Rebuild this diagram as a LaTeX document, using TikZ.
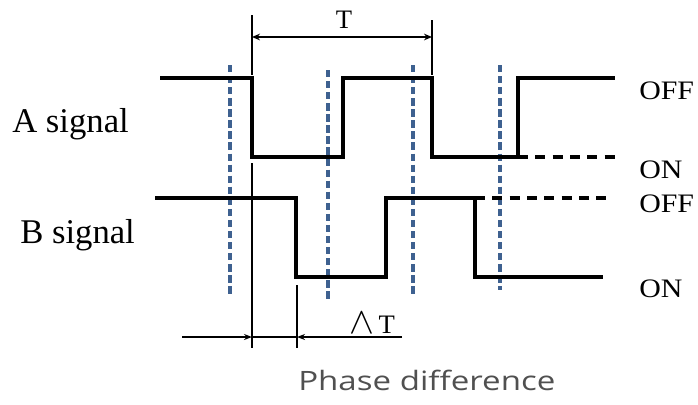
\documentclass[tikz,border=0pt]{standalone}
\usepackage{fontspec}
\setmainfont{Liberation Serif}
\newfontfamily\uifont{Open Sans}
\usepackage{graphicx}
\usepackage{tikz}
\usetikzlibrary{arrows.meta}
\definecolor{guideblue}{RGB}{62,97,144}
\definecolor{capgray}{RGB}{80,80,80}

\begin{document}
\begin{tikzpicture}[x=0.75pt, y=-0.75pt,
    wave/.style={line width=2.8pt},
    wavedash/.style={line width=2.8pt, dash pattern=on 7.5pt off 5.5pt},
    guide/.style={guideblue, line width=2.6pt, dash pattern=on 5.5pt off 2.8pt},
    tick/.style={line width=2pt},
    sig/.style={font=\fontsize{26}{30}\selectfont, anchor=base west, inner sep=0pt},
    lvl/.style={font=\fontsize{20}{24}\selectfont, anchor=base west, inner sep=0pt}]
  \useasboundingbox (0,0) rectangle (698,404);
  % Sampling guides (blue dashed)
  \foreach \gx/\gtop/\gbot in {230/65/294, 328/70/300, 413/65/294, 500/65/290} {
    \draw[guide] (\gx,\gtop) -- (\gx,\gbot);
  }
  % A signal
  \draw[wave] (160,78) -| (252,157) -| (343,78) -| (432,157) -| (518,78) -- (615,78);
  \draw[wavedash] (518,157) -- (617,157);
  % B signal
  \draw[wave] (155,198) -| (296,277) -| (386,198) -| (475,277) -- (603,277);
  \draw[wavedash] (475,198) -- (610,198);
  % Period T
  \coordinate (ptop) at (252,15);
  \coordinate (pend) at (432,20);
  \coordinate (pl) at (252,37);
  \coordinate (pr) at (432,37);
  \draw[tick] (ptop) -- (252,75);
  \draw[tick] (pend) -- (432,75);
  \draw[tick, {Stealth[length=6pt, width=5pt]}-{Stealth[length=6pt, width=5pt]}] (pl) -- (pr);
  \node[lvl, anchor=base] (tlabel) at (344,28) {T};
  % Phase shift
  \coordinate (da) at (252,337);
  \coordinate (db) at (297,337);
  \coordinate (din) at (182,337);
  \coordinate (dout) at (402,337);
  \draw[tick] (252,163) -- (252,348);
  \draw[tick] (297,285) -- (297,348);
  \draw[tick, -{Stealth[length=6pt, width=4.5pt]}] (din) -- (da);
  \draw[tick] (da) -- (db);
  \draw[tick, -{Stealth[length=6pt, width=4.5pt]}] (dout) -- (db);
  \node[lvl] (dtlabel) at (349,333) {\scalebox{1.35}{$\wedge$}\,T};
  % Labels
  \node[sig] (asig) at (12,132) {A signal};
  \node[sig] (bsig) at (20,243) {B signal};
  \node[lvl] (off1) at (639,99) {\scalebox{1.12}[1]{OFF}};
  \node[lvl] (on1) at (639,178) {\scalebox{1.12}[1]{ON}};
  \node[lvl] (off2) at (639,212) {\scalebox{1.12}[1]{OFF}};
  \node[lvl] (on2) at (639,297) {\scalebox{1.12}[1]{ON}};
  \node[anchor=base west, inner sep=0pt, capgray, font=\uifont\fontsize{20}{24}\selectfont]
    (caption) at (298,390) {\scalebox{1.24}[1]{Phase difference}};
\end{tikzpicture}
\end{document}
